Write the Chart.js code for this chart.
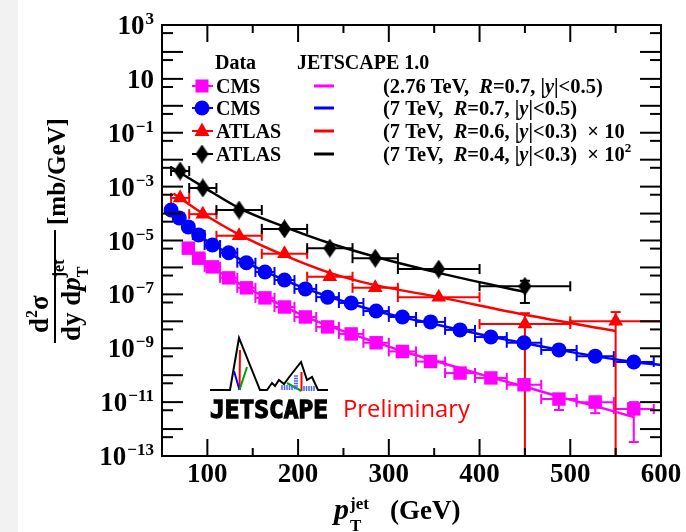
<!DOCTYPE html>
<html>
<head>
<meta charset="utf-8">
<script src="https://cdn.jsdelivr.net/npm/chart.js@4.4.0/dist/chart.umd.min.js"></script>
<style>
html,body{margin:0;padding:0;background:#fff;}
#wrap{position:relative;width:686px;height:532px;overflow:hidden;}
#strip{position:absolute;left:0;top:0;width:18px;height:532px;background:#f2f2f2;}
#myChart{position:absolute;left:0;top:0;}
</style>
</head>
<body>
<div id="wrap"><div id="strip"></div><canvas id="myChart" width="686" height="532"></canvas></div>
<script>

//------------------------------------------------------------------
// axis ticks / labels

var x_ticks = [100, 200, 300, 400, 500, 600];
var x_minor = [50, 150, 250, 350, 450, 550];
var y_label_exp = [3, 1, -1, -3, -5, -7, -9, -11, -13];

//------------------------------------------------------------------
// CMS 2.76 TeV, R=0.7 (magenta squares)

var cms276_pt  = [79, 90.5, 105.5, 123.5, 143, 163.5, 185, 208, 232.5, 258.5, 286, 315, 346, 378.5, 412.5, 449, 487.5, 527.5, 570];
var cms276_lo  = [74, 84, 97, 114, 133, 153, 174, 196, 220, 245, 272, 300, 330, 362, 395, 430, 468, 507, 548];
var cms276_hi  = [84, 97, 114, 133, 153, 174, 196, 220, 245, 272, 300, 330, 362, 395, 430, 468, 507, 548, 592];
var cms276_val = [5.2e-6, 2.2e-6, 1.05e-6, 4.1e-7, 1.75e-7, 7.4e-8, 3.4e-8, 1.45e-8, 6.2e-9, 3.4e-9, 1.6e-9, 7.6e-10, 3.2e-10, 1.2e-10, 7.9e-11, 4.4e-11, 1.3e-11, 1.0e-11, 5.6e-12];
var cms276_eup = [null, null, null, null, null, null, null, null, null, null, null, null, null, null, null, null, 2.0e-11, 1.6e-11, 1.0e-11];
var cms276_edn = [null, null, null, null, null, null, null, null, null, null, null, null, null, null, null, null, 5.1e-12, 3.9e-12, 3.3e-13];
var jet_cms276 = [5.6e-6, 2.4e-6, 1.0e-6, 4.2e-7, 1.8e-7, 7.9e-8, 3.5e-8, 1.5e-8, 7.1e-9, 3.4e-9, 1.66e-9, 7.9e-10, 3.8e-10, 1.8e-10, 8.3e-11, 3.8e-11, 1.6e-11, 7.1e-12, 2.8e-12];

// CMS 7 TeV, R=0.7 (blue circles)

var cms7_pt  = [60, 69, 79, 90.5, 105.5, 123.5, 143, 163.5, 185, 208, 232.5, 258.5, 286, 315, 346, 378.5, 412.5, 449, 487.5, 527.5, 570];
var cms7_lo  = [56, 64, 74, 84, 97, 114, 133, 153, 174, 196, 220, 245, 272, 300, 330, 362, 395, 430, 468, 507, 548];
var cms7_hi  = [64, 74, 84, 97, 114, 133, 153, 174, 196, 220, 245, 272, 300, 330, 362, 395, 430, 468, 507, 548, 592];
var cms7_val = [1.35e-4, 6.9e-5, 3.2e-5, 1.6e-5, 6.8e-6, 3.5e-6, 1.5e-6, 6.8e-7, 3.4e-7, 1.6e-7, 7.9e-8, 4.8e-8, 2.4e-8, 1.45e-8, 9.5e-9, 4.8e-9, 2.6e-9, 1.6e-9, 8.7e-10, 5.1e-10, 3.1e-10];
var jet_cms7_pt  = [56, 69, 79, 90.5, 105.5, 123.5, 143, 163.5, 185, 208, 232.5, 258.5, 286, 315, 346, 378.5, 412.5, 449, 487.5, 527.5, 570, 600];
var jet_cms7     = [1.9e-4, 7.2e-5, 3.3e-5, 1.6e-5, 7.1e-6, 3.4e-6, 1.5e-6, 7.1e-7, 3.4e-7, 1.66e-7, 8.5e-8, 4.5e-8, 2.4e-8, 1.4e-8, 8.5e-9, 4.8e-9, 2.7e-9, 1.55e-9, 8.7e-10, 5.1e-10, 3.1e-10, 2.4e-10];

// ATLAS 7 TeV, R=0.6, x10 (red triangles)

var atlas6_pt  = [70, 95, 135, 185, 235, 285, 355, 450, 550];
var atlas6_lo  = [60, 80, 110, 160, 210, 260, 310, 400, 500];
var atlas6_hi  = [80, 110, 160, 210, 260, 310, 400, 500, 600];
var atlas6_val = [3.8e-4, 9.5e-5, 1.5e-5, 3.2e-6, 4.5e-7, 1.75e-7, 7.9e-8, 7.9e-9, 1.0e-8];
var atlas6_eup = [null, null, null, null, null, null, null, 2.0e-8, 2.2e-8];
var atlas6_edn = [null, null, null, null, null, null, null, 1e-20, 1e-20];
var jet_atlas6_pt = [62.5, 95, 135, 185, 235, 285, 355, 450, 550];
var jet_atlas6    = [5.6e-4, 1.0e-4, 1.66e-5, 2.8e-6, 6.3e-7, 2.2e-7, 7.9e-8, 1.74e-8, 4.4e-9];

// ATLAS 7 TeV, R=0.4, x100 (black diamonds)

var atlas4_pt  = [70, 95, 135, 185, 235, 285, 355, 450];
var atlas4_lo  = [60, 80, 110, 160, 210, 260, 310, 400];
var atlas4_hi  = [80, 110, 160, 210, 260, 310, 400, 500];
var atlas4_val = [3.8e-3, 8.9e-4, 1.35e-4, 2.7e-5, 5.2e-6, 2.2e-6, 8.7e-7, 2.0e-7];
var atlas4_eup = [null, null, null, null, null, null, null, 3.2e-7];
var atlas4_edn = [null, null, null, null, null, null, null, 4.8e-8];
var jet_atlas4_pt = [61.5, 95, 135, 185, 235, 285, 355, 450];
var jet_atlas4    = [4.9e-3, 1.0e-3, 1.6e-4, 3.2e-5, 7.9e-6, 2.5e-6, 6.3e-7, 1.23e-7];

//------------------------------------------------------------------

var MAGENTA = '#ff00ff', BLUE = '#0000ff', RED = '#ff0000', BLACK = '#000000';
var SERIF = '"Liberation Serif", "DejaVu Serif", serif';

function pts(xs, ys){ return xs.map(function(x, i){ return {x: x, y: ys[i]}; }); }

// diamond marker (taller than wide, like ROOT style 33)
var diamond = document.createElement('canvas');
diamond.width = 13; diamond.height = 19;
(function(){
    var d = diamond.getContext('2d');
    d.fillStyle = BLACK;
    d.beginPath(); d.moveTo(6.5, 0); d.lineTo(13, 9.5); d.lineTo(6.5, 19); d.lineTo(0, 9.5); d.closePath(); d.fill();
})();

function line_ds(xs, ys, color){
    return {type: 'line', data: pts(xs, ys), borderColor: color, borderWidth: 2.5, pointRadius: 0,
            tension: 0.3, cubicInterpolationMode: 'monotone', fill: false, order: 2};
}
function mark_ds(xs, ys, color, style, r){
    return {type: 'scatter', data: pts(xs, ys), backgroundColor: color, borderColor: color, borderWidth: 0,
            pointStyle: style, pointRadius: r, order: 1};
}

var err_sets = [
    {c: MAGENTA, x: cms276_pt, lo: cms276_lo, hi: cms276_hi, y: cms276_val, up: cms276_eup, dn: cms276_edn},
    {c: BLUE,    x: cms7_pt,   lo: cms7_lo,   hi: cms7_hi,   y: cms7_val,   up: null,       dn: null},
    {c: RED,     x: atlas6_pt, lo: atlas6_lo, hi: atlas6_hi, y: atlas6_val, up: atlas6_eup, dn: atlas6_edn},
    {c: BLACK,   x: atlas4_pt, lo: atlas4_lo, hi: atlas4_hi, y: atlas4_val, up: atlas4_eup, dn: atlas4_edn}
];

function seg(c, x1, y1, x2, y2){ c.beginPath(); c.moveTo(x1, y1); c.lineTo(x2, y2); c.stroke(); }

// text pieces: [text, style, size, dy]
function draw_pieces(c, x, y, pieces){
    pieces.forEach(function(p){
        c.font = p[1] + ' ' + p[2] + 'px ' + SERIF;
        c.fillText(p[0], x, y + (p[3] || 0));
        x += c.measureText(p[0]).width;
    });
    return x;
}

function draw_marker(c, style, color, x, y){
    c.fillStyle = color;
    c.beginPath();
    if (style == 'rect'){ c.rect(x - 6.5, y - 6.5, 13, 13); }
    else if (style == 'circle'){ c.arc(x, y, 7.5, 0, Math.PI * 2); }
    else if (style == 'triangle'){ c.moveTo(x, y - 8.5); c.lineTo(x + 7.5, y + 5); c.lineTo(x - 7.5, y + 5); c.closePath(); }
    else { c.drawImage(diamond, x - 6.5, y - 9.5); return; }
    c.fill();
}

const jetscape_plugin = {
    id: 'jetscape',
    beforeDatasetsDraw(chart){
        var c = chart.ctx, xs = chart.scales.x, ys = chart.scales.y, a = chart.chartArea;
        c.save();
        c.beginPath(); c.rect(a.left, a.top, a.right - a.left, a.bottom - a.top); c.clip();
        c.lineWidth = 2;
        err_sets.forEach(function(s){
            c.strokeStyle = s.c;
            for (let i = 0; i < s.x.length; i++){
                var py = ys.getPixelForValue(s.y[i]);
                var x1 = xs.getPixelForValue(s.lo[i]), x2 = xs.getPixelForValue(s.hi[i]);
                seg(c, x1, py, x2, py);
                seg(c, x1, py - 5, x1, py + 5);
                seg(c, x2, py - 5, x2, py + 5);
                if (s.up && s.up[i] != null){
                    var px = xs.getPixelForValue(s.x[i]);
                    var y1 = ys.getPixelForValue(s.up[i]);
                    var y2 = Math.min(ys.getPixelForValue(s.dn[i]), a.bottom);
                    seg(c, px, y1, px, y2);
                    seg(c, px - 5, y1, px + 5, y1);
                    seg(c, px - 5, y2, px + 5, y2);
                }
            }
        });
        c.restore();
    },
    afterDraw(chart){
        var c = chart.ctx, xs = chart.scales.x, ys = chart.scales.y, a = chart.chartArea;
        c.save();
        c.strokeStyle = BLACK; c.fillStyle = BLACK; c.lineWidth = 2;

        // frame + ticks
        c.strokeRect(a.left, a.top, a.right - a.left, a.bottom - a.top);
        x_ticks.forEach(function(v){
            var px = xs.getPixelForValue(v);
            seg(c, px, a.bottom, px, a.bottom - 17); seg(c, px, a.top, px, a.top + 17);
        });
        x_minor.forEach(function(v){
            var px = xs.getPixelForValue(v);
            seg(c, px, a.bottom, px, a.bottom - 8); seg(c, px, a.top, px, a.top + 8);
        });
        for (let e = -13; e <= 3; e++){
            var py = ys.getPixelForValue(Math.pow(10, e));
            seg(c, a.left, py, a.left + 21, py); seg(c, a.right, py, a.right - 21, py);
            if (e < 3){
                var pm = ys.getPixelForValue(5 * Math.pow(10, e));
                seg(c, a.left, pm, a.left + 11, pm); seg(c, a.right, pm, a.right - 11, pm);
            }
        }

        // x tick labels
        c.font = 'bold 27px ' + SERIF; c.textAlign = 'center'; c.textBaseline = 'alphabetic';
        x_ticks.forEach(function(v){ c.fillText(String(v), xs.getPixelForValue(v), 482); });

        // y tick labels 10^n
        c.textAlign = 'right';
        y_label_exp.forEach(function(e){
            var py = ys.getPixelForValue(Math.pow(10, e));
            if (e == 1){ c.font = 'bold 27px ' + SERIF; c.fillText('10', 154, py + 9); return; }
            var ex = (e < 0 ? '\u2212' : '') + Math.abs(e);
            c.font = 'bold 17px ' + SERIF;
            var w = c.measureText(ex).width;
            c.fillText(ex, 154, py - 1);
            c.font = 'bold 27px ' + SERIF;
            c.fillText('10', 154 - w - 1, py + 9);
        });
        c.textAlign = 'left';

        // x title
        draw_pieces(c, 334, 519, [['p', 'italic bold', 30]]);
        c.font = 'bold 17px ' + SERIF;
        c.fillText('jet', 350, 509);
        c.fillText('T', 350, 531);
        draw_pieces(c, 390, 519, [['(GeV)', 'bold', 27]]);

        // y title (rotated)
        c.save();
        c.translate(55, 343); c.rotate(-Math.PI / 2);
        seg(c, 0, 0, 113, 0);
        var xe = draw_pieces(c, 10, -7, [['d', 'bold', 27], ['2', 'bold', 16, -11], ['\u03c3', 'bold', 27]]);
        xe = draw_pieces(c, 2, 25, [['dy d', 'bold', 27], ['p', 'italic bold', 27]]);
        c.font = 'bold 16px ' + SERIF;
        c.fillText('jet', xe, 9); c.fillText('T', xe, 33);
        draw_pieces(c, 118, 10, [['[mb/GeV]', 'bold', 25]]);
        c.restore();

        // legend
        c.fillStyle = BLACK;
        draw_pieces(c, 215, 69, [['Data', 'bold', 20]]);
        draw_pieces(c, 297, 69, [['JETSCAPE 1.0', 'bold', 20]]);
        var rows = [
            {m: 'rect', col: MAGENTA, name: 'CMS', y: 86, t: [['(2.76 TeV,  ', 'bold', 20.5], ['R', 'italic bold', 20.5], ['=0.7, |', 'bold', 20.5], ['y', 'italic bold', 20.5], ['|<0.5)', 'bold', 20.5]]},
            {m: 'circle', col: BLUE, name: 'CMS', y: 108, t: [['(7 TeV,  ', 'bold', 20.5], ['R', 'italic bold', 20.5], ['=0.7, |', 'bold', 20.5], ['y', 'italic bold', 20.5], ['|<0.5)', 'bold', 20.5]]},
            {m: 'triangle', col: RED, name: 'ATLAS', y: 131, t: [['(7 TeV,  ', 'bold', 20.5], ['R', 'italic bold', 20.5], ['=0.6, |', 'bold', 20.5], ['y', 'italic bold', 20.5], ['|<0.3)  \u00d7 10', 'bold', 20.5]]},
            {m: 'diamond', col: BLACK, name: 'ATLAS', y: 154, t: [['(7 TeV,  ', 'bold', 20.5], ['R', 'italic bold', 20.5], ['=0.4, |', 'bold', 20.5], ['y', 'italic bold', 20.5], ['|<0.3)  \u00d7 10', 'bold', 20.5], ['2', 'bold', 13, -9]]}
        ];
        rows.forEach(function(r){
            c.strokeStyle = r.col; c.lineWidth = 2;
            seg(c, 192, r.y, 213, r.y);
            draw_marker(c, r.m, r.col, 202, r.y);
            c.lineWidth = 3;
            seg(c, 314, r.y, 334, r.y);
            c.fillStyle = BLACK;
            draw_pieces(c, 216, r.y + 7, [[r.name, 'bold', 20]]);
            draw_pieces(c, 383, r.y + 7, r.t);
        });

        // JETSCAPE logo
        c.strokeStyle = BLACK; c.lineWidth = 2; c.lineJoin = 'miter';
        c.beginPath();
        var m = [[210,390],[230,390],[239,338],[260,390],[267,390],[272,383],[275,386],[279,380],[284,384],[290,376],[301,362],[307,380],[312,377],[318,390],[328,390]];
        c.moveTo(m[0][0], m[0][1]);
        m.forEach(function(p){ c.lineTo(p[0], p[1]); });
        c.stroke();
        c.lineWidth = 2;
        c.strokeStyle = RED;   seg(c, 240, 350, 239.5, 390); seg(c, 301.5, 372, 301.5, 391);
        c.strokeStyle = BLUE;  seg(c, 234, 371, 239.5, 390);
        c.strokeStyle = '#00a000'; seg(c, 247, 367, 239.5, 390); seg(c, 287, 383, 301.5, 391);
        c.strokeStyle = '#4466ff'; c.lineWidth = 1.5;
        for (let k = 0; k < 5; k++){ seg(c, 282 + k * 2.5, 385, 282 + k * 2.5, 390); }
        for (let k = 0; k < 6; k++){ seg(c, 294, 376 + k * 2.5, 298, 376 + k * 2.5); }
        for (let k = 0; k < 5; k++){ seg(c, 304 + k * 2.5, 386, 304 + k * 2.5, 391); }
        c.fillStyle = BLACK;
        c.save();
        c.font = 'bold 22px "DejaVu Sans Mono", monospace';
        var lw = c.measureText('JETSCAPE').width;
        c.translate(210, 418); c.scale(118 / lw, 1.12);
        c.lineWidth = 1.2; c.strokeStyle = BLACK;
        c.strokeText('JETSCAPE', 0, 0);
        c.fillText('JETSCAPE', 0, 0);
        c.restore();
        c.fillStyle = RED;
        c.font = '24px "Open Sans", sans-serif';
        var pw = c.measureText('Preliminary').width;
        c.save(); c.translate(343, 417); c.scale(127 / pw, 1); c.fillText('Preliminary', 0, 0); c.restore();

        c.restore();
    }
};

//------------------------------------------------------------------

const kave_chart = new Chart(document.getElementById('myChart'), {
    type: 'scatter',
    data: {
        datasets: [
            line_ds(cms276_pt, jet_cms276, MAGENTA),
            line_ds(jet_cms7_pt, jet_cms7, BLUE),
            line_ds(jet_atlas6_pt, jet_atlas6, RED),
            line_ds(jet_atlas4_pt, jet_atlas4, BLACK),
            mark_ds(cms276_pt, cms276_val, MAGENTA, 'rect', 9.5),
            mark_ds(cms7_pt, cms7_val, BLUE, 'circle', 7.5),
            mark_ds(atlas6_pt, atlas6_val, RED, 'triangle', 8.5),
            mark_ds(atlas4_pt, atlas4_val, BLACK, diamond, 9)
        ]
    },
    options: {
        responsive: false,
        animation: false,
        layout: {padding: {left: 162, right: 25, top: 25, bottom: 76}},
        plugins: {legend: {display: false}, tooltip: {enabled: false}},
        scales: {
            x: {type: 'linear', min: 50, max: 600, display: false},
            y: {type: 'logarithmic', min: 1e-13, max: 1e3, display: false}
        }
    },
    plugins: [jetscape_plugin]
});

</script>
</body>
</html>
